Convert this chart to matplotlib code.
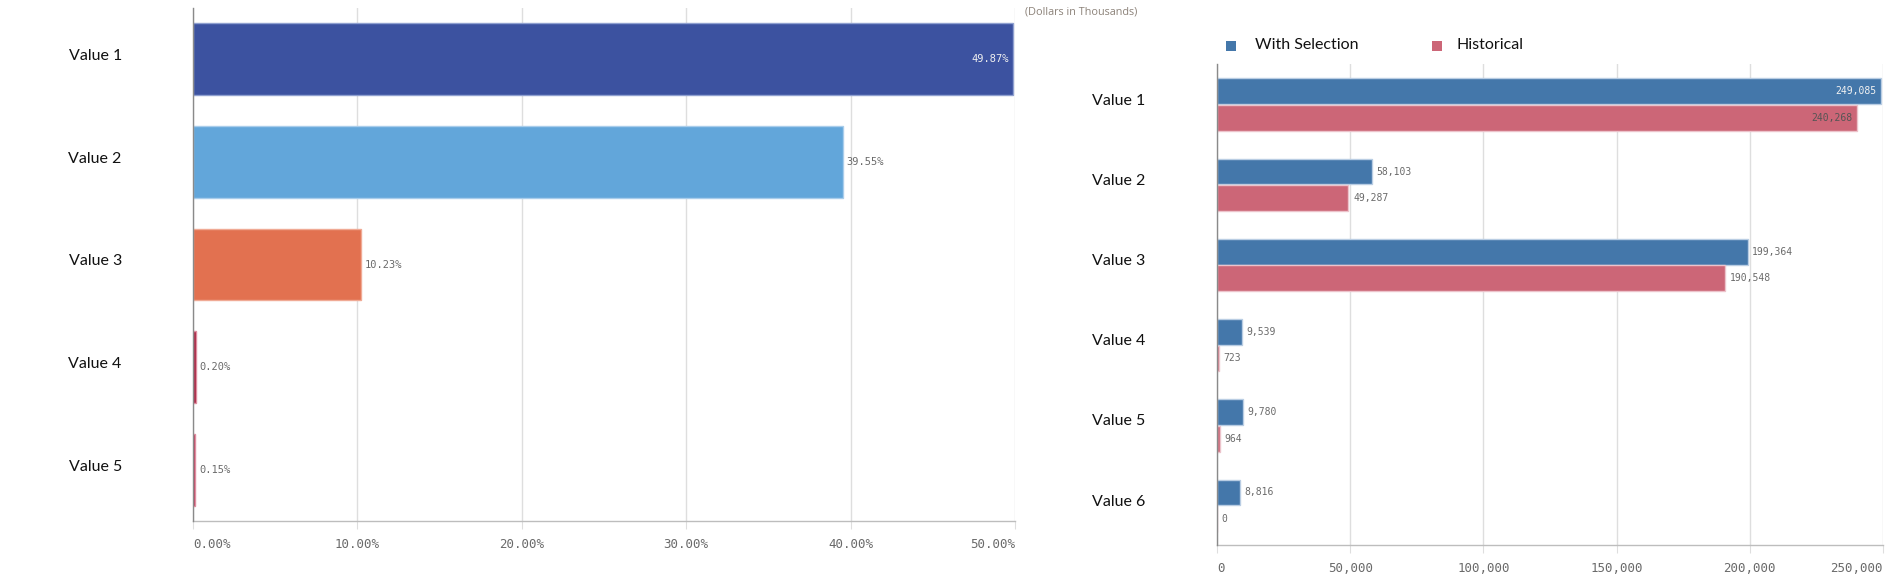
import matplotlib
matplotlib.use("Agg")
import matplotlib.pyplot as plt
from matplotlib.patches import Rectangle
from matplotlib.ticker import FuncFormatter

# ---------------- data ----------------
left_categories = ["Value 1", "Value 2", "Value 3", "Value 4", "Value 5"]
left_shares = [49.87, 39.55, 10.23, 0.20, 0.15]
left_colors = ["#3C52A0", "#62A6DA", "#E27150", "#A3203D", "#B02848"]
left_edges = ["#8FA0D0", "#A9CDEB", "#F0AA95", "#E08DA0", "#E08DA0"]
left_ticks = [0, 10, 20, 30, 40, 50]

right_categories = ["Value 1", "Value 2", "Value 3", "Value 4", "Value 5", "Value 6"]
with_selection = [249085, 58103, 199364, 9539, 9780, 8816]
historical = [240268, 49287, 190548, 723, 964, 0]
right_ticks = [0, 50000, 100000, 150000, 200000, 250000]
series_names = ["With Selection", "Historical"]
series_colors = ["#4477AA", "#CC6677"]

W, H = 1893, 580
fig = plt.figure(figsize=(W / 100, H / 100), dpi=100)

def px_axes(x0, y0, x1, y1):
    return fig.add_axes([x0 / W, 1 - y1 / H, (x1 - x0) / W, (y1 - y0) / H])

MONO = "DejaVu Sans Mono"
LABEL_FONT = "Lato"
GRID = "#dedede"

def style_axes(ax):
    ax.grid(axis="x", color=GRID, linewidth=1.0, zorder=0)
    for s in ["top", "right"]:
        ax.spines[s].set_visible(False)
    ax.spines["left"].set_color("#8a8a8a")
    ax.spines["left"].set_linewidth(1.0)
    ax.spines["left"].set_zorder(4)
    ax.spines["bottom"].set_color("#bdbdbd")
    ax.spines["bottom"].set_linewidth(1.0)
    ax.tick_params(axis="x", length=6, color=GRID, labelsize=9, labelcolor="#6a6a6a", pad=6)
    for lab in ax.get_xticklabels():
        lab.set_fontfamily(MONO)

# ---------------- left chart ----------------
axL = px_axes(193, 8, 1015, 521)
yl = list(range(len(left_categories)))
axL.barh(yl, left_shares, height=0.70, color=left_colors, edgecolor=left_edges,
         linewidth=1.0, zorder=3)
axL.set_xlim(0, 50)
axL.set_ylim(len(left_categories) - 0.5, -0.5)
axL.set_xticks(left_ticks)
axL.xaxis.set_major_formatter(FuncFormatter(lambda v, p: f"{v:.2f}%"))
axL.set_yticks([])
style_axes(axL)
labsL = axL.get_xticklabels()
labsL[0].set_ha("left")
labsL[-1].set_ha("right")
for i, (cat, v) in enumerate(zip(left_categories, left_shares)):
    axL.text(-0.119, i - 0.03, cat, transform=axL.get_yaxis_transform(), ha="center", va="center",
             fontsize=11.5, fontfamily=LABEL_FONT, color="#111111")
    if v > 45:
        axL.annotate(f"{v:.2f}%", (v, i), xytext=(-3, 0), textcoords="offset points",
                     ha="right", va="center", fontsize=7.5, fontfamily=MONO,
                     color="#f0f0f0", zorder=5)
    else:
        axL.annotate(f"{v:.2f}%", (v, i), xytext=(2.5, 0), textcoords="offset points",
                     ha="left", va="center", fontsize=7.5, fontfamily=MONO,
                     color="#6a6a6a", zorder=5)

# ---------------- right chart ----------------
axR = px_axes(1217, 64, 1883, 545)
n = len(right_categories)
yr = list(range(n))
off = 0.165
bh = 0.32
blue_y = [y - off for y in yr]
red_y = [y + off for y in yr]
axR.barh(blue_y, with_selection, height=bh, color=series_colors[0], edgecolor="#b9cde3",
         linewidth=1.0, zorder=3)
axR.barh(red_y, historical, height=bh, color=series_colors[1], edgecolor="#ecc3cb",
         linewidth=1.0, zorder=3)
axR.set_xlim(0, 250000)
axR.set_ylim(n - 0.51, -0.505)
axR.set_xticks(right_ticks)
axR.xaxis.set_major_formatter(FuncFormatter(lambda v, p: f"{int(v):,}"))
axR.set_yticks([])
style_axes(axR)
labsR = axR.get_xticklabels()
labsR[0].set_ha("left")
labsR[-1].set_ha("right")

for i, cat in enumerate(right_categories):
    axR.text(-0.148, i - 0.05, cat, transform=axR.get_yaxis_transform(), ha="center",
             va="center", fontsize=11.5, fontfamily=LABEL_FONT, color="#111111")
for y, v in zip(blue_y, with_selection):
    if v > 230000:
        axR.annotate(f"{v:,}", (v, y), xytext=(-3, 0), textcoords="offset points",
                     ha="right", va="center", fontsize=7, fontfamily=MONO, color="#f2f2f2", zorder=5)
    else:
        axR.annotate(f"{v:,}", (v, y), xytext=(3, 0), textcoords="offset points",
                     ha="left", va="center", fontsize=7, fontfamily=MONO, color="#6a6a6a", zorder=5)
for y, v in zip(red_y, historical):
    if v > 230000:
        axR.annotate(f"{v:,}", (v, y), xytext=(-3, 0), textcoords="offset points",
                     ha="right", va="center", fontsize=7, fontfamily=MONO, color="#555555", zorder=5)
    else:
        axR.annotate(f"{v:,}", (v, y), xytext=(3.5, 0), textcoords="offset points",
                     ha="left", va="center", fontsize=7, fontfamily=MONO, color="#6a6a6a", zorder=5)

# ---------------- legend & subtitle ----------------
fig.text(1025 / W, 1 - 12 / H, "(Dollars in Thousands)", ha="left", va="center",
         fontsize=7.8, fontfamily="Open Sans", color="#8c8279")
legend_x = [(1226, 1255), (1432, 1457)]
for (sx, tx), name, col in zip(legend_x, series_names, series_colors):
    fig.add_artist(Rectangle((sx / W, 1 - 51 / H), 10 / W, 10 / H, transform=fig.transFigure,
                             facecolor=col, edgecolor="none"))
    fig.text(tx / W, 1 - 45 / H, name, ha="left", va="center", fontsize=11.5,
             fontfamily=LABEL_FONT, color="#111111")

fig.savefig("out.png", dpi=100, facecolor="white")
